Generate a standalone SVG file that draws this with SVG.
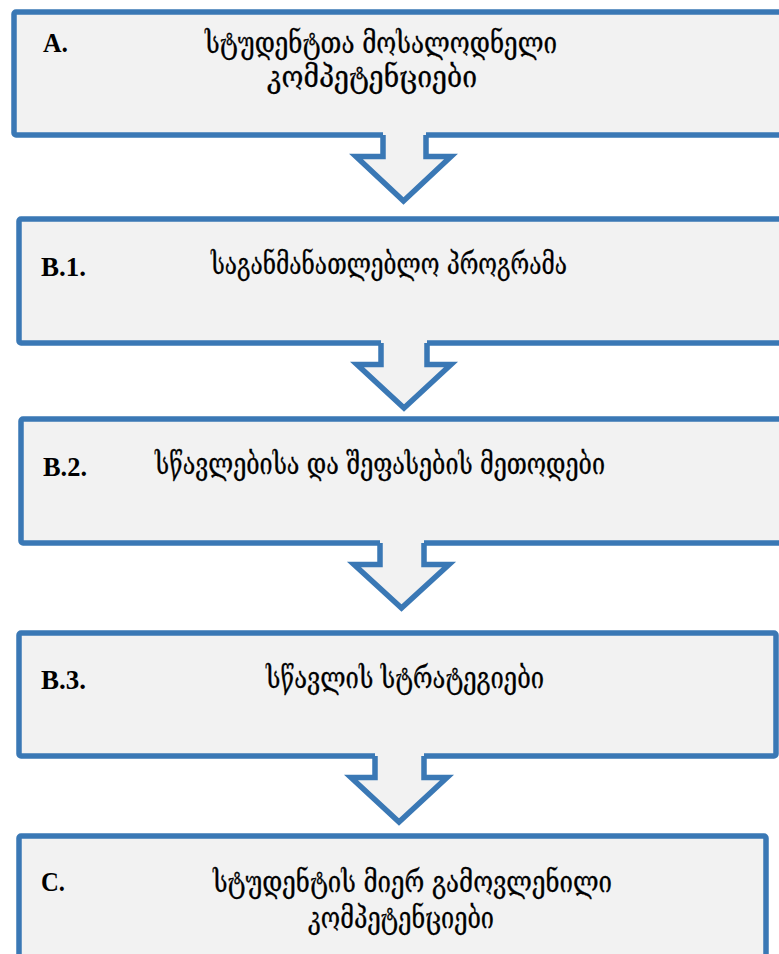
<svg xmlns="http://www.w3.org/2000/svg" width="779" height="954" viewBox="0 0 779 954">
<style>
.box{fill:#F2F2F2;stroke:#3A78B5;stroke-width:5.5}
.arr{fill:none;stroke:#3A78B5;stroke-width:5.5;stroke-linejoin:miter;stroke-miterlimit:10}
.arrfill{fill:#F2F2F2;stroke:none}
.lbl{font-family:"Liberation Serif","DejaVu Serif",serif;font-weight:bold;font-size:28px;fill:#000}
.geo{font-family:"DejaVu Serif","DejaVu Sans",serif;font-size:29px;fill:#000;stroke:#000;stroke-width:0.3}
</style>
<rect width="779" height="954" fill="#FFFFFF"/>
<g id="nodeA">
<rect class="box" x="14" y="12" width="790" height="123" rx="2"/>
<text class="lbl" x="43" y="52" textLength="25" lengthAdjust="spacingAndGlyphs">A.</text>
<text class="geo" x="205" y="53" textLength="352" lengthAdjust="spacingAndGlyphs">სტუდენტთა მოსალოდნელი</text>
<text class="geo" x="267" y="87" textLength="210" lengthAdjust="spacingAndGlyphs">კომპეტენციები</text>
</g>
<g id="nodeB1">
<rect class="box" x="19" y="219" width="790" height="124" rx="2"/>
<text class="lbl" x="41" y="276" textLength="45" lengthAdjust="spacingAndGlyphs">B.1.</text>
<text class="geo" x="211" y="274" textLength="356" lengthAdjust="spacingAndGlyphs">საგანმანათლებლო პროგრამა</text>
</g>
<g id="nodeB2">
<rect class="box" x="21" y="419" width="790" height="124" rx="2"/>
<text class="lbl" x="43" y="476" textLength="44" lengthAdjust="spacingAndGlyphs">B.2.</text>
<text class="geo" x="155" y="474" textLength="450" lengthAdjust="spacingAndGlyphs">სწავლებისა და შეფასების მეთოდები</text>
</g>
<g id="nodeB3">
<rect class="box" x="19" y="633" width="757" height="123" rx="2"/>
<text class="lbl" x="41" y="689" textLength="45" lengthAdjust="spacingAndGlyphs">B.3.</text>
<text class="geo" x="266" y="688" textLength="278" lengthAdjust="spacingAndGlyphs">სწავლის სტრატეგიები</text>
</g>
<g id="nodeC">
<rect class="box" x="19" y="836" width="747" height="200" rx="2"/>
<text class="lbl" x="41" y="891" textLength="24" lengthAdjust="spacingAndGlyphs">C.</text>
<text class="geo" x="213" y="892" textLength="399" lengthAdjust="spacingAndGlyphs">სტუდენტის მიერ გამოვლენილი</text>
<text class="geo" x="308" y="928" textLength="186" lengthAdjust="spacingAndGlyphs">კომპეტენციები</text>
</g>
<g id="connectors">
<polygon class="arrfill" points="383,130 426,130 426,156.5 451,156.5 403.5,201 356,156.5 383,156.5"/>
<polyline class="arr" points="383,135 383,156.5 356,156.5 403.5,201 451,156.5 426,156.5 426,135"/>
<polygon class="arrfill" points="381,338 427,338 427,364.5 451,364.5 404,408 357,364.5 381,364.5"/>
<polyline class="arr" points="381,343 381,364.5 357,364.5 404,408 451,364.5 427,364.5 427,343"/>
<polygon class="arrfill" points="380,538 424,538 424,564.5 449,564.5 401.5,608 354,564.5 380,564.5"/>
<polyline class="arr" points="380,543 380,564.5 354,564.5 401.5,608 449,564.5 424,564.5 424,543"/>
<polygon class="arrfill" points="375,751 424,751 424,777.5 447,777.5 399,822 351,777.5 375,777.5"/>
<polyline class="arr" points="375,756 375,777.5 351,777.5 399,822 447,777.5 424,777.5 424,756"/>
</g>
</svg>
